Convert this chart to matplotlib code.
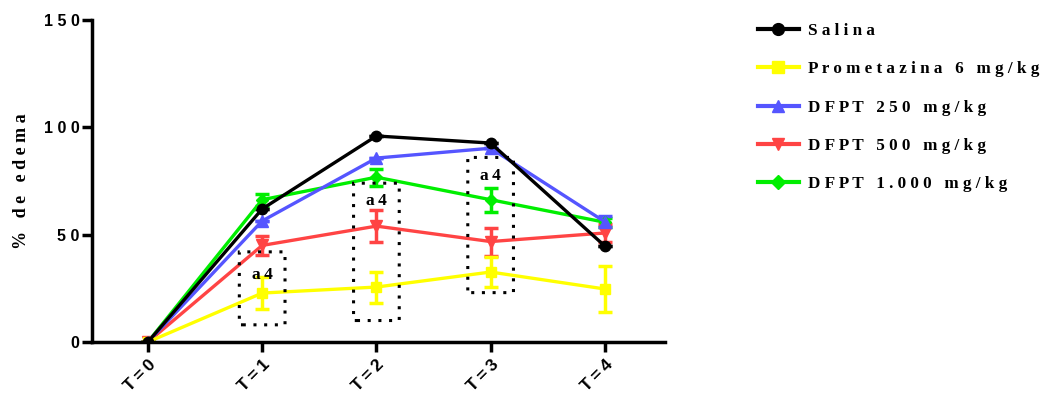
import matplotlib
matplotlib.use("Agg")
import matplotlib.pyplot as plt
from matplotlib.patches import FancyBboxPatch
from matplotlib.lines import Line2D

# tiempos y valores (% de edema)
tiempos = ["T=0", "T=1", "T=2", "T=3", "T=4"]
salina = [0, 62, 96, 92.7, 44.7]
salina_err = [0, 0, 0, 0, 0]
prometazina = [0, 22.8, 25.6, 32.6, 24.7]
prometazina_err = [0, 7.3, 7.2, 7.0, 10.5]
dfpt250 = [0, 56.4, 85.7, 90.3, 56]
dfpt250_err = [0, 0, 0, 0, 2.5]
dfpt500 = [0, 45, 54, 46.8, 50.8]
dfpt500_err = [0, 4.5, 7.5, 6.5, 4]
dfpt1000 = [0, 66.3, 76.8, 66.3, 55.8]
dfpt1000_err = [0, 2.8, 4, 5.5, 2.2]

nombres = ["Salina", "Prometazina 6 mg/kg", "DFPT 250 mg/kg", "DFPT 500 mg/kg", "DFPT 1.000 mg/kg"]

# cajas punteadas "a4": (tiempo, y inferior, y superior, y del texto)
cajas_t = [1, 2, 3]
cajas_y0 = [8, 10, 23]
cajas_y1 = [42, 74, 86]
cajas_txt = [31, 65.5, 77.5]


def espaciado(s):
    return " ".join(s)


def fino(s):  # espacio fino entre caracteres
    return "\u2009".join(s)


fig = plt.figure(figsize=(10.56, 3.94), dpi=100)
ax = fig.add_axes([0.0871, 0.132, 0.543, 0.817])
x = list(range(len(tiempos)))

series = [
    (salina, salina_err, "black", "o", 7.5),
    (prometazina, prometazina_err, "#FFFF00", "s", 7.5),
    (dfpt250, dfpt250_err, "#5555FF", "^", 8),
    (dfpt500, dfpt500_err, "#FF4444", "v", 8),
    (dfpt1000, dfpt1000_err, "#00EE00", "D", 6),
]
# orden de dibujo: la salina arriba
handles = []
for (vals, errs, col, mk, ms), nombre in zip(series[::-1], nombres[::-1]):
    ax.errorbar(x, vals, yerr=errs, color=col, marker=mk, markersize=ms,
                linewidth=2.4, elinewidth=2.5, capsize=5, capthick=2.5)
    handles.append(Line2D([], [], color=col, marker=mk, markersize=ms + 1,
                          linewidth=3, label=espaciado(nombre)))
handles = handles[::-1]

for t, y0, y1, yt in zip(cajas_t, cajas_y0, cajas_y1, cajas_txt):
    caja = FancyBboxPatch((t - 0.2, y0), 0.4, y1 - y0,
                          boxstyle="round,pad=0,rounding_size=0.03",
                          fill=False, linestyle=(0, (1, 2.5)), linewidth=2.2,
                          edgecolor="black", zorder=5)
    ax.add_patch(caja)
    ax.text(t, yt, fino("a4"), ha="center", va="center", fontsize=12.5,
            fontweight="bold", family="Liberation Serif", zorder=6)

ax.set_xlim(-0.49, 4.53)
ax.set_ylim(0, 150)
ax.set_yticks([0, 50, 100, 150])
ax.set_yticklabels([espaciado(s) for s in ["0", "50", "100", "150"]], fontweight="bold",
                   family="Liberation Sans", fontsize=11.5)
ax.set_xticks(x)
ax.set_xticklabels([fino(t) for t in tiempos], rotation=45, ha="right",
                   rotation_mode="anchor", fontweight="bold",
                   family="Liberation Sans", fontsize=12.5)
ax.set_ylabel(espaciado("% de edema"), fontweight="bold",
              family="Liberation Serif", fontsize=13, labelpad=10)
for lado in ["top", "right"]:
    ax.spines[lado].set_visible(False)
for lado in ["left", "bottom"]:
    ax.spines[lado].set_linewidth(2.5)
ax.tick_params(width=2.5, length=7, direction="out")
ax.tick_params(axis="y", pad=2)

fig.legend(handles=handles, loc="upper left", bbox_to_anchor=(0.703, 0.98),
           frameon=False, handlelength=2.4, handletextpad=0.55, labelspacing=1.3,
           prop={"family": "Liberation Serif", "weight": "bold", "size": 12.3})

fig.savefig("out.png", dpi=100)
